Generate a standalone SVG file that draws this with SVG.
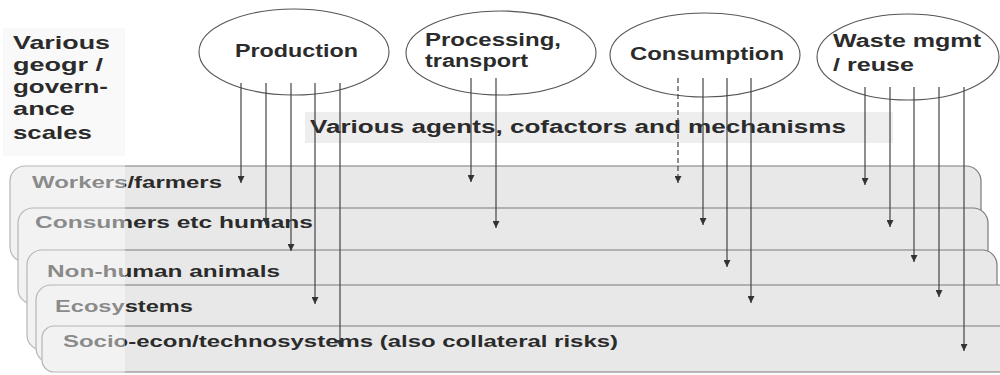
<svg xmlns="http://www.w3.org/2000/svg" width="1000" height="375" viewBox="0 0 1000 375">
<style>
text{font-family:"Liberation Sans",Arial,sans-serif;font-weight:bold;fill:#2b2b2b}
.lbl{font-size:19px}
.ell{fill:#fff;stroke:#555;stroke-width:1.1}
.ellt{font-size:19px}
.ellt2{font-size:18px}
.row{fill:#e8e8e8;stroke:#7a7a7a;stroke-width:1.2}
.rowt{font-size:17px}
.con{stroke:#444;stroke-width:1.2;fill:none;marker-end:url(#ah)}
.dash{stroke-dasharray:5,3}
</style>
<defs>
<marker id="ah" markerUnits="userSpaceOnUse" markerWidth="7" markerHeight="7" refX="7" refY="3.5" orient="auto">
<path d="M0,0 L7,3.5 L0,7 z" fill="#333"/>
</marker>
</defs>
<rect width="1000" height="375" fill="#fff"/>
<rect x="3" y="28" width="122" height="128" fill="#f9f9f9"/>
<g id="scales-label">
<text class="lbl" x="13" y="49" textLength="97" lengthAdjust="spacingAndGlyphs">Various</text>
<text class="lbl" x="13" y="71" textLength="90" lengthAdjust="spacingAndGlyphs">geogr /</text>
<text class="lbl" x="13" y="93" textLength="95" lengthAdjust="spacingAndGlyphs">govern-</text>
<text class="lbl" x="13" y="115" textLength="62" lengthAdjust="spacingAndGlyphs">ance</text>
<text class="lbl" x="13" y="139" textLength="79" lengthAdjust="spacingAndGlyphs">scales</text>
</g>
<g id="row-workers">
<rect class="row" x="10" y="166" width="971" height="96" rx="15"/>
<text class="rowt" x="32" y="188" textLength="190" lengthAdjust="spacingAndGlyphs">Workers/farmers</text>
</g>
<g id="row-consumers">
<rect class="row" x="18" y="208" width="970" height="96" rx="15"/>
<text class="rowt" x="35" y="228" textLength="278" lengthAdjust="spacingAndGlyphs">Consumers etc humans</text>
</g>
<g id="row-animals">
<rect class="row" x="27" y="250" width="970" height="100" rx="15"/>
<text class="rowt" x="47" y="277" textLength="233" lengthAdjust="spacingAndGlyphs">Non-human animals</text>
</g>
<g id="row-ecosystems">
<rect class="row" x="36" y="285" width="980" height="78" rx="15"/>
<text class="rowt" x="55" y="312" textLength="138" lengthAdjust="spacingAndGlyphs">Ecosystems</text>
</g>
<g id="row-socio">
<rect class="row" x="42" y="326" width="980" height="46" rx="12"/>
<text class="rowt" x="63" y="347" textLength="555" lengthAdjust="spacingAndGlyphs">Socio-econ/technosystems (also collateral risks)</text>
</g>
<rect x="0" y="158" width="125" height="217" fill="#fff" opacity="0.45"/>
<g id="agents-band">
<rect x="305" y="112" width="588" height="31" fill="#eeeeee"/>
<text x="310" y="133" font-size="18" textLength="536" lengthAdjust="spacingAndGlyphs">Various agents, cofactors and mechanisms</text>
</g>
<g id="production">
<ellipse class="ell" cx="294" cy="52" rx="95" ry="43"/>
<text class="ellt" x="235" y="57" textLength="123" lengthAdjust="spacingAndGlyphs">Production</text>
</g>
<g id="processing">
<ellipse class="ell" cx="501" cy="53" rx="95" ry="42"/>
<text class="ellt2" x="425" y="46" textLength="136" lengthAdjust="spacingAndGlyphs">Processing,</text>
<text class="ellt2" x="425" y="67" textLength="103" lengthAdjust="spacingAndGlyphs">transport</text>
</g>
<g id="consumption">
<ellipse class="ell" cx="705" cy="55" rx="95" ry="42"/>
<text class="ellt" x="630" y="60" textLength="154" lengthAdjust="spacingAndGlyphs">Consumption</text>
</g>
<g id="waste">
<ellipse class="ell" cx="908" cy="57" rx="91" ry="43"/>
<text class="ellt2" x="833" y="47" textLength="148" lengthAdjust="spacingAndGlyphs">Waste mgmt</text>
<text class="ellt2" x="833" y="71" textLength="81" lengthAdjust="spacingAndGlyphs">/ reuse</text>
</g>
<g id="connectors">
<line class="con" x1="241" y1="83" x2="241" y2="183"/>
<line class="con" x1="266" y1="83" x2="266" y2="225"/>
<line class="con" x1="291" y1="83" x2="291" y2="251"/>
<line class="con" x1="315" y1="83" x2="315" y2="304"/>
<line class="con" x1="340" y1="83" x2="340" y2="347"/>
<line class="con" x1="471" y1="78" x2="471" y2="182"/>
<line class="con" x1="496" y1="78" x2="496" y2="228"/>
<line class="con dash" x1="678" y1="78" x2="678" y2="183"/>
<line class="con" x1="703" y1="78" x2="703" y2="225"/>
<line class="con" x1="727" y1="78" x2="727" y2="267"/>
<line class="con" x1="751" y1="78" x2="751" y2="303"/>
<line class="con" x1="865" y1="87" x2="865" y2="185"/>
<line class="con" x1="890" y1="87" x2="890" y2="227"/>
<line class="con" x1="914" y1="87" x2="914" y2="262"/>
<line class="con" x1="939" y1="87" x2="939" y2="297"/>
<line class="con" x1="964" y1="87" x2="964" y2="351"/>
</g>
</svg>
